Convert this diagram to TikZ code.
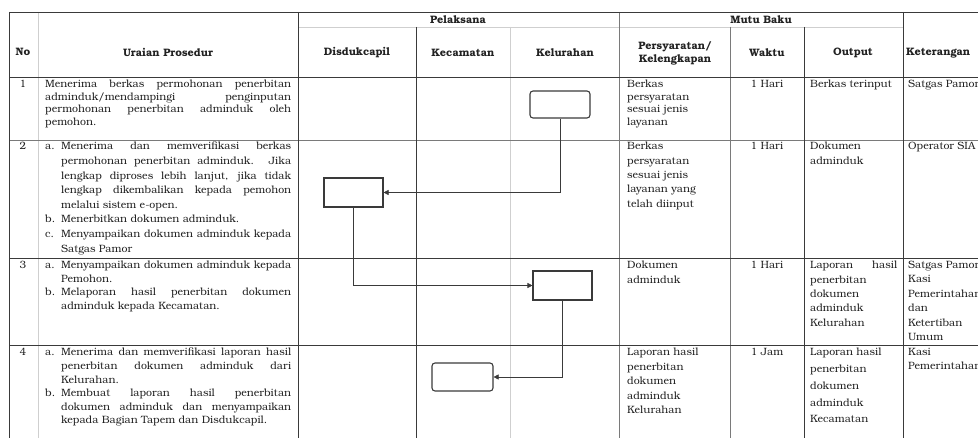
\documentclass[tikz,border=0pt]{standalone}
\usepackage{fontspec}
\setmainfont{TeX Gyre Bonum}
\usetikzlibrary{arrows.meta}
\definecolor{lnD}{HTML}{3A3A3A}
\definecolor{lnM}{HTML}{7A7A7A}
\definecolor{lnL}{HTML}{CFCFCF}
\definecolor{txtc}{HTML}{222222}
\newcommand\bodyfs{\fontsize{10.6}{14.4}\selectfont}
\newcommand\itm[1]{\hangindent=16pt\hangafter=1\noindent\makebox[16pt][l]{#1}}
\newcommand\urbox[2]{\parbox[t]{246pt}{\fontsize{10.6}{#1}\selectfont\parindent=0pt\relax #2}}
\tikzset{
  txt/.style={anchor=north west, inner sep=0pt, text=txtc},
  txl/.style={anchor=north west, inner sep=0pt, font=\bodyfs, text=txtc, align=left},
  txc/.style={anchor=north, inner sep=0pt, font=\bodyfs, text=txtc, align=center},
  hdr/.style={inner sep=0pt, font=\bfseries\fontsize{10.8}{13}\selectfont, text=txtc, align=center},
  dline/.style={draw=lnD, line width=0.9pt},
  mline/.style={draw=lnM, line width=0.8pt},
  lline/.style={draw=lnL, line width=0.8pt},
  rbox/.style={draw=lnD, line width=1.1pt, rounded corners=3pt, minimum width=60pt, minimum height=27pt, inner sep=0pt},
  sbox/.style={draw=lnD, line width=1.1pt, minimum width=59pt, minimum height=29pt, inner sep=0pt},
  flow/.style={draw=lnD, line width=0.6pt, -{Triangle[length=5pt,width=5pt]}}
}
\begin{document}
\begin{tikzpicture}[x=1pt,y=-1pt]
\useasboundingbox (0,0) rectangle (978,438);
\clip (0,0) rectangle (978,438);
% table grid
\draw[lline] (38,12) -- (38,438);
\draw[lline] (510,27) -- (510,438);
\draw[lline] (298,27) -- (903,27);
\draw[mline] (730,27) -- (730,438);
\draw[mline] (619,12) -- (619,438);
\draw[mline] (9,140) -- (1000,140);
\draw[dline] (416,27) -- (416,438);
\draw[dline] (804,27) -- (804,438);
\draw[dline] (903,12) -- (903,438);
\draw[dline] (298,12) -- (298,438);
\draw[dline] (9,12) -- (9,438);
\draw[dline] (9,12) -- (1000,12);
\draw[dline] (9,77) -- (1000,77);
\draw[dline] (9,258) -- (1000,258);
\draw[dline] (9,345) -- (1000,345);
% headers
\node[hdr] (hNo) at (23,52) {No};
\node[hdr] (hUr) at (168,52) {Uraian Prosedur};
\node[hdr] (hPel) at (458,20) {Pelaksana};
\node[hdr] (hDis) at (357,53) {Disdukcapil};
\node[hdr] (hKec) at (463,53) {Kecamatan};
\node[hdr] (hKel) at (565,53) {Kelurahan};
\node[hdr] (hMutu) at (761,20) {Mutu Baku};
\node[hdr] (hPers) at (675,53.5) {Persyaratan/\\Kelengkapan};
\node[hdr] (hWak) at (767,53) {Waktu};
\node[hdr] (hOut) at (853,53) {Output};
\node[hdr, anchor=west] (hKet) at (906,53) {Keterangan};
% numbers
\node[txc] (n1) at (23,80) {1};
\node[txc] (n2) at (23,142) {2};
\node[txc] (n3) at (23,261) {3};
\node[txc] (n4) at (23,348) {4};
% uraian
\node[txt] (u1) at (45,80) {\urbox{12.6}{Menerima berkas permohonan penerbitan\linebreak adminduk/mendampingi penginputan\linebreak permohonan penerbitan adminduk oleh\linebreak pemohon.}};
\node[txt] (u2) at (45,142) {\urbox{14.6}{\itm{a.}Menerima dan memverifikasi berkas\linebreak permohonan penerbitan adminduk. Jika\linebreak lengkap diproses lebih lanjut, jika tidak\linebreak lengkap dikembalikan kepada pemohon\linebreak melalui sistem e-open.\par\itm{b.}Menerbitkan dokumen adminduk.\par\itm{c.}Menyampaikan dokumen adminduk kepada\linebreak Satgas Pamor}};
\node[txt] (u3) at (45,261) {\urbox{13.6}{\itm{a.}Menyampaikan dokumen adminduk kepada\linebreak Pemohon.\par\itm{b.}Melaporan hasil penerbitan dokumen\linebreak adminduk kepada Kecamatan.}};
\node[txt] (u4) at (45,348) {\urbox{13.6}{\itm{a.}Menerima dan memverifikasi laporan hasil\linebreak penerbitan dokumen adminduk dari\linebreak Kelurahan.\par\itm{b.}Membuat laporan hasil penerbitan\linebreak dokumen adminduk dan menyampaikan\linebreak kepada Bagian Tapem dan Disdukcapil.}};
% persyaratan
\node[txl, font=\fontsize{10.6}{12.6}\selectfont] (p1) at (627,80) {Berkas\\persyaratan\\sesuai jenis\\layanan};
\node[txl] (p2) at (627,142) {Berkas\\persyaratan\\sesuai jenis\\layanan yang\\telah diinput};
\node[txl] (p3) at (627,261) {Dokumen\\adminduk};
\node[txl] (p4) at (627,348) {Laporan hasil\\penerbitan\\dokumen\\adminduk\\Kelurahan};
% waktu
\node[txc] (w1) at (767,80) {1 Hari};
\node[txc] (w2) at (767,142) {1 Hari};
\node[txc] (w3) at (767,261) {1 Hari};
\node[txc] (w4) at (767,348) {1 Jam};
% output
\node[txl] (o1) at (810,80) {Berkas terinput};
\node[txl] (o2) at (810,142) {Dokumen\\adminduk};
\node[txl] (o3) at (810,261) {\hbox to 87pt{Laporan\hfill hasil}\\penerbitan\\dokumen\\adminduk\\Kelurahan};
\node[txl, font=\fontsize{10.6}{16.8}\selectfont] (o4) at (810,348) {Laporan hasil\\penerbitan\\dokumen\\adminduk\\Kecamatan};
% keterangan
\node[txl] (k1) at (908,80) {Satgas Pamor};
\node[txl] (k2) at (908,142) {Operator SIA};
\node[txl] (k3) at (908,261) {Satgas Pamor\\Kasi\\Pemerintahan\\dan\\Ketertiban\\Umum};
\node[txl] (k4) at (908,348) {Kasi\\Pemerintahan};
% flow shapes
\node[rbox] (b1) at (560,104.5) {};
\node[sbox] (b2) at (353.5,192.5) {};
\node[sbox] (b3) at (562.5,285.5) {};
\node[rbox, minimum width=61pt, minimum height=28pt] (b4) at (462.5,377) {};
\draw[flow] (b1.south) |- (b2.east);
\draw[flow] (b2.south) |- (b3.west);
\draw[flow] (b3.south) |- (b4.east);
\end{tikzpicture}
\end{document}
